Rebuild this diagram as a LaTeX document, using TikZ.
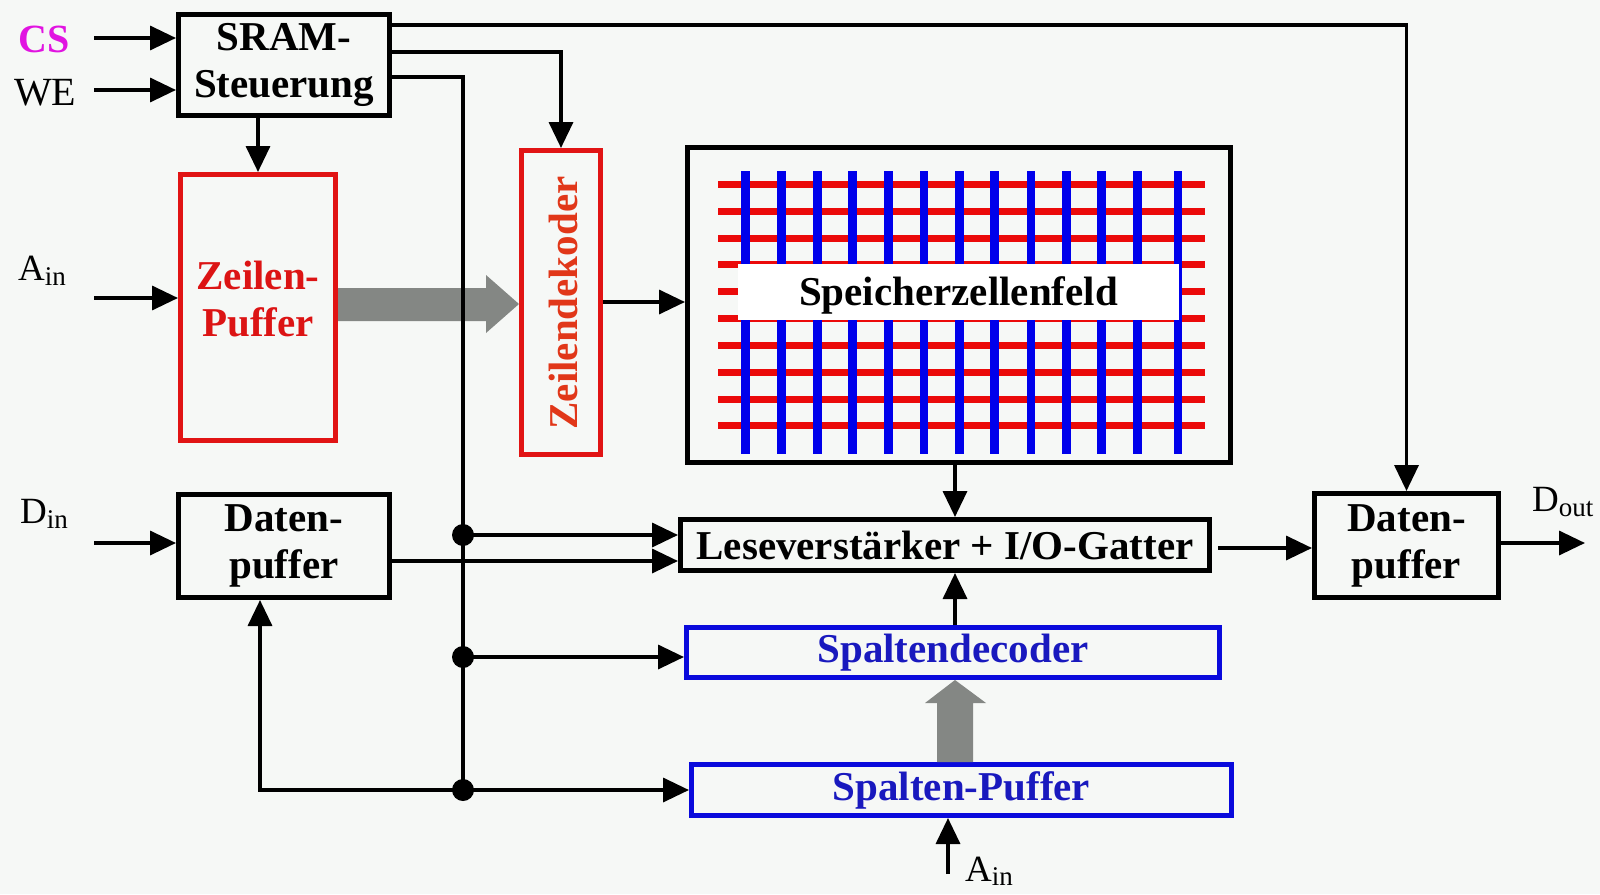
\documentclass[tikz,border=0pt]{standalone}
\usepackage{fontspec}
\setmainfont{Liberation Serif}
\usetikzlibrary{arrows.meta,calc}
\definecolor{bg}{RGB}{246,248,246}
\definecolor{bred}{RGB}{225,20,20}
\definecolor{tred}{RGB}{220,20,20}
\definecolor{zdred}{RGB}{225,55,25}
\definecolor{bblue}{RGB}{10,10,220}
\definecolor{tblue}{RGB}{25,25,190}
\definecolor{gblue}{RGB}{0,0,235}
\definecolor{gred}{RGB}{235,10,10}
\definecolor{garrow}{RGB}{132,135,132}
\definecolor{csmag}{RGB}{225,20,225}
\begin{document}
\begin{tikzpicture}[x=1pt,y=-1pt,
  box/.style={draw, line width=5pt, inner sep=0pt, align=center, font=\fontsize{41}{47}\selectfont\bfseries},
  redbox/.style={box, draw=bred, text=tred},
  bluebox/.style={box, draw=bblue, text=tblue},
  blackbox/.style={box, draw=black, text=black},
  boxtext/.style={inner sep=0pt, align=center, font=\fontsize{41}{47}\selectfont\bfseries},
  arr/.style={line width=3.5pt, -{Triangle[length=26pt,width=24pt]}},
  wire/.style={line width=3.5pt},
  lbl/.style={anchor=base west, inner sep=0pt, font=\fontsize{37}{37}\selectfont},
  junction/.style={circle, fill=black, inner sep=0pt, minimum size=22pt},
  blockarrow/.style={fill=garrow}
]
\useasboundingbox (0,0) rectangle (1600,894);
\fill[bg] (0,0) rectangle (1600,894);

% boxes
\node[blackbox, minimum width=211pt, minimum height=101pt] (sram) at (284,65) {SRAM-\\Steuerung};
\node[redbox, minimum width=155pt, minimum height=266pt] (zp) at (258,307.5) {};
\node[boxtext, text=tred] (zptext) at (258,299) {Zeilen-\\Puffer};
\node[redbox, minimum width=79pt, minimum height=304pt] (zd) at (561,302.5) {};
\node[rotate=90, boxtext, text=zdred] (zdtext) at (563,303) {Zeilendekoder};
\node[blackbox, minimum width=543pt, minimum height=315pt] (szf) at (959,305) {};
\node[blackbox, minimum width=211pt, minimum height=103pt] (dpl) at (284,546) {Daten-\\puffer};
\node[blackbox, minimum width=529pt, minimum height=51pt] (lv) at (945,545) {Leseverst\"arker + I/O-Gatter};
\node[bluebox, minimum width=533pt, minimum height=50pt] (sd) at (953,652.5) {Spaltendecoder};
\node[bluebox, minimum width=540pt, minimum height=51pt] (sp) at (961.5,790) {Spalten-Puffer};
\node[blackbox, minimum width=184pt, minimum height=104pt] (dpr) at (1406.5,545.5) {Daten-\\puffer};

% memory grid
\foreach \k in {0,...,9}
  \draw[gred, line width=7pt] (718,{184.3+26.85*\k}) -- (1205,{184.3+26.85*\k});
\foreach \x in {745.7,781.7,817.3,852.5,888.5,924.1,959.7,994.5,1030.8,1066.4,1101.6,1137.6,1178.2}
  \draw[gblue, line width=8.5pt] (\x,171) -- (\x,454);
\node[fill=white, inner sep=0pt, minimum width=441pt, minimum height=56pt] (szfbox) at (958.5,291.5) {};
\node[boxtext] (szflbl) at (958.5,295) {Speicherzellenfeld};

% labels
\node[lbl, font=\fontsize{40}{40}\selectfont\bfseries, text=csmag] (cs) at (18,52) {CS};
\node[lbl, font=\fontsize{40}{40}\selectfont] (we) at (14,105) {WE};
\node[lbl] (ainl) at (18,280) {A\raisebox{-5pt}{\fontsize{27}{27}\selectfont in}};
\node[lbl] (dinl) at (20,523) {D\raisebox{-5pt}{\fontsize{27}{27}\selectfont in}};
\node[lbl] (doutl) at (1532,511) {D\raisebox{-5pt}{\fontsize{27}{27}\selectfont out}};
\node[lbl] (ainbl) at (965,881) {A\raisebox{-4pt}{\fontsize{27}{27}\selectfont in}};

% free ends and junction points
\coordinate (csin) at (94,38);
\coordinate (wein) at (94,90);
\coordinate (ainin) at (94,298);
\coordinate (dinin) at (94,543);
\coordinate (dout) at (1585,543);
\coordinate (ainb) at (948,874);
\coordinate (busTop) at (463,77);
\coordinate (j1) at (463,535);
\coordinate (j2) at (463,657);
\coordinate (j3) at (463,790);

% gray block arrows
\fill[blockarrow] (zp.east |- 0,288) -- (486,288) -- (486,275) -- (zd.west |- 0,304) -- (486,333) -- (486,321) -- (zp.east |- 0,321) -- cycle;
\fill[blockarrow] (937,0 |- sp.north) -- (937,703) -- (925,703) -- (955,0 |- sd.south) -- (986,703) -- (973,703) -- (973,0 |- sp.north) -- cycle;

% inputs
\draw[arr] (csin) -- (csin -| sram.west);
\draw[arr] (wein) -- (wein -| sram.west);
\draw[arr] (ainin) -- (ainin -| zp.west);
\draw[arr] (dinin) -- (dinin -| dpl.west);
\draw[arr] (ainb) -- (ainb |- sp.south);

% control lines
\draw[arr] (sram.east |- 0,25) -| (dpr.north);
\draw[arr] (sram.east |- 0,52) -| (zd.north);
\draw[wire] (sram.east |- busTop) -- (busTop) -- (j3);
\draw[arr] (zp.north |- sram.south) -- (zp.north);

% data path
\draw[arr] (zd.east |- 0,302) -- (szf.west |- 0,302);
\draw[arr] (955,0 |- szf.south) -- (955,0 |- lv.north);
\draw[arr] (955,0 |- sd.north) -- (955,0 |- lv.south);
\draw[arr] (j1) -- (j1 -| lv.west);
\draw[arr] (dpl.east |- 0,561) -- (lv.west |- 0,561);
\draw[arr] (j2) -- (j2 -| sd.west);
\draw[arr] (j3) -- (j3 -| sp.west);
\draw[arr] (j3) -| (260,0 |- dpl.south);
\draw[arr] ([xshift=6pt]lv.east |- 0,548) -- (dpr.west |- 0,548);
\draw[arr] (dpr.east |- dout) -- (dout);

% junction dots
\node[junction] (d1) at (j1) {};
\node[junction] (d2) at (j2) {};
\node[junction] (d3) at (j3) {};
\end{tikzpicture}
\end{document}
